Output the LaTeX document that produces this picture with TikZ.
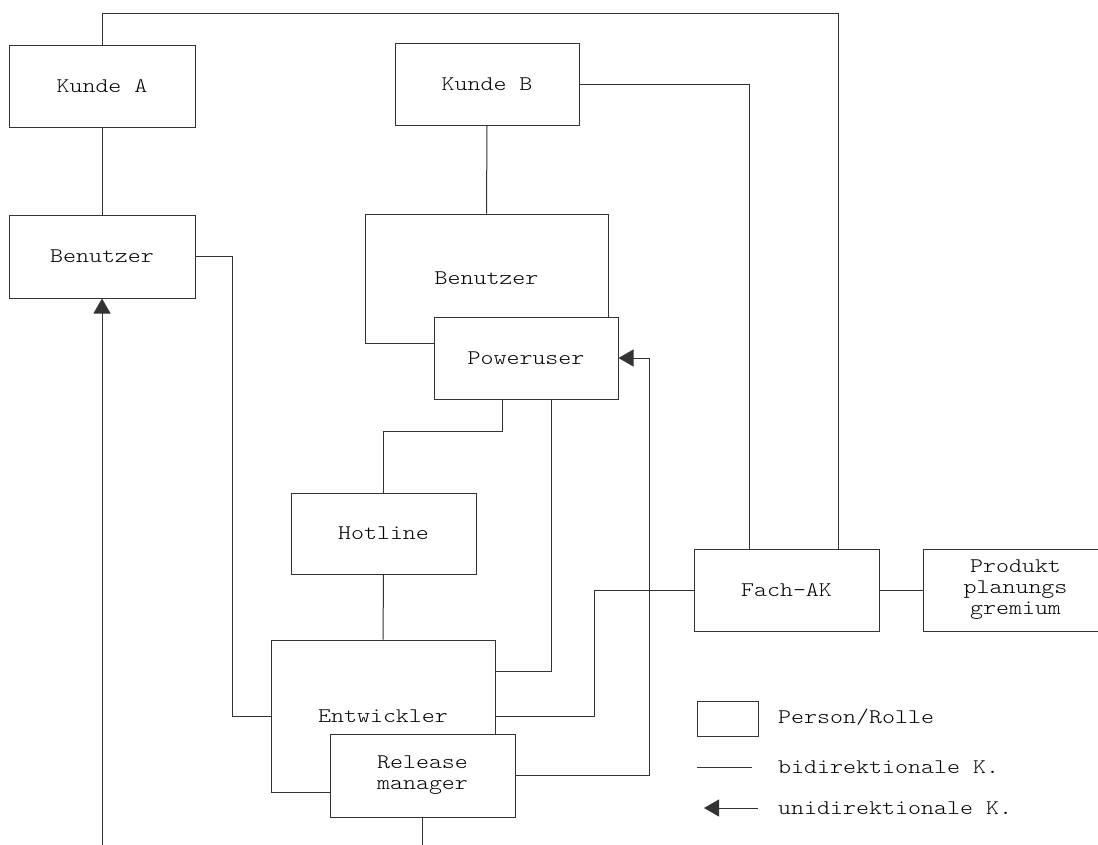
\documentclass[tikz,border=0pt]{standalone}
\usepackage{fontspec}
% light typewriter face, widened to a Courier-like pitch
\newfontfamily\labelfont[FakeStretch=1.19]{lmmonolt10-regular.otf}
\usetikzlibrary{arrows.meta}
\begin{document}
\begin{tikzpicture}[x=1pt,y=-1pt,
  txt/.style={font=\labelfont\fontsize{20.8}{21}\selectfont, align=center, text=black},
  box/.style={txt, draw=black!80, line width=1pt, fill=white, inner sep=0pt},
  dims/.style 2 args={minimum width=#1pt, minimum height=#2pt},
  conn/.style={draw=black!80, line width=1pt},
  uni/.style={conn, -{Triangle[length=15pt,width=17pt]}},
]
\useasboundingbox (0,0) rectangle (1098,844);

% customers and users
\node[box, dims={186}{82}]  (KA) at (102,86)     {Kunde A};
\node[box, dims={186}{83}]  (BL) at (102,256.5)  {Benutzer};
\node[box, dims={184}{82}]  (KB) at (487,84)     {Kunde B};
\node[box, dims={243}{129}] (B2) at (486.5,278.5){Benutzer};
\node[box, dims={184}{82}]  (PU) at (526,358)    {Poweruser};

% support and development
\node[box, dims={185}{81}]  (HL) at (383.5,533.5) {Hotline};
\node[box, dims={224}{152}] (EN) at (383,716)     {Entwickler};
\node[box, dims={185}{83}]  (RM) at (422.5,775.5) {Release\\manager};

% committees
\node[box, dims={185}{82}]  (FA) at (786.5,590)   {Fach-AK};
\node[box, dims={185}{82}]  (PR) at (1015.5,590)  {Produkt\\planungs\\gremium};

% attachment points on the committee box
\coordinate (faT1) at ([xshift=-37.5pt]FA.north);
\coordinate (faT2) at ([xshift=51.5pt]FA.north);

% bidirectional connections
\draw[conn] (KA.north) -- ++(0,-31) -| (faT2);
\draw[conn] (KB.east) -| (faT1);
\draw[conn] (KA.south) -- (BL.north);
\draw[conn] (KB.south) -- (B2.north);
\draw[conn] (BL.east) -- ++(37,0) |- (EN.west);
\draw[conn] ([xshift=-24pt]PU.south) -- ++(0,32) -| (HL.north);
\draw[conn] ([xshift=25pt]PU.south) |- ([yshift=45pt]EN.east);
\draw[conn] (HL.south) -- (EN.north);
\draw[conn] (FA.west) -- ++(-99,0) |- (EN.east);
\draw[conn] (FA.east) -- (PR.west);
\draw[conn] (RM.south) -- ++(0,40);

% unidirectional connections
\draw[uni] (RM.east) -- ++(134,0) |- (PU.east);
\coordinate (bb) at (102,850);
\draw[uni] (bb) -- (BL.south);

% legend
\node[box, dims={61}{35}] (LG) at (727.5,718.5) {};
\node[txt, anchor=west, inner sep=0pt] (LGt1) at (778,717) {Person/Rolle};
\coordinate (l1a) at (697,767);
\coordinate (l1b) at (752,767);
\draw[conn] (l1a) -- (l1b);
\node[txt, anchor=west, inner sep=0pt] (LGt2) at (778,767) {bidirektionale K.};
\coordinate (l2a) at (704,808);
\coordinate (l2b) at (758,808);
\draw[uni] (l2b) -- (l2a);
\node[txt, anchor=west, inner sep=0pt] (LGt3) at (778,808) {unidirektionale K.};
\end{tikzpicture}
\end{document}
